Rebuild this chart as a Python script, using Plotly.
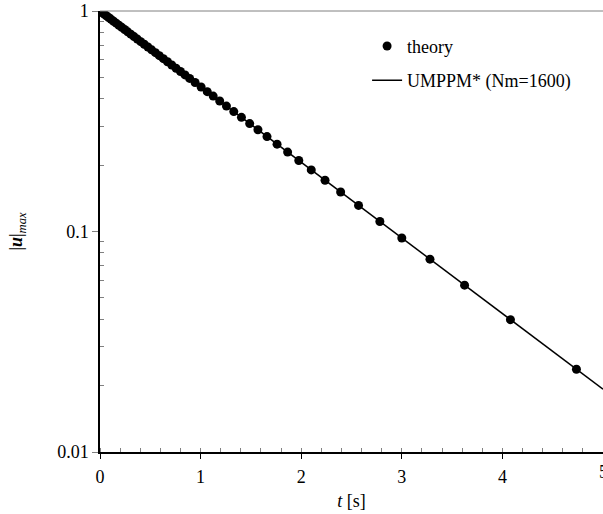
import plotly.graph_objects as go

# theory points (t [s], |u|max)
theory_t = [0, 0.02, 0.041, 0.063, 0.086, 0.11, 0.135, 0.161, 0.188, 0.216,
            0.245, 0.275, 0.306, 0.338, 0.371, 0.405, 0.44, 0.476, 0.513, 0.551,
            0.59, 0.63, 0.671, 0.713, 0.756, 0.80, 0.845, 0.891, 0.945, 1.005,
            1.066, 1.125, 1.19, 1.257, 1.33, 1.406, 1.488, 1.57, 1.66, 1.76,
            1.865, 1.976, 2.10, 2.237, 2.392, 2.57, 2.782, 3.0, 3.28, 3.624,
            4.08, 4.736]
theory_u = [1.0, 0.9843, 0.9681, 0.9514, 0.9343, 0.9168, 0.8988, 0.8806, 0.8620, 0.8431,
            0.8240, 0.8047, 0.7853, 0.7657, 0.7460, 0.7262, 0.7064, 0.6866, 0.6668, 0.6471,
            0.6274, 0.6079, 0.5886, 0.5693, 0.5503, 0.5315, 0.5130, 0.4947, 0.4740, 0.4520,
            0.4308, 0.4112, 0.3906, 0.3705, 0.3497, 0.3293, 0.3087, 0.2893, 0.2694, 0.2490,
            0.2292, 0.2099, 0.1903, 0.1708, 0.1511, 0.1313, 0.1110, 0.09348, 0.07493, 0.05710,
            0.03983, 0.02372]

# UMPPM* (Nm=1600) simulation curve
sim_t = [0, 0.5, 1.0, 1.5, 2.0, 2.5, 3.0, 3.5, 4.0, 4.5, 5.0]
sim_u = [1.0, 0.6737, 0.4538, 0.3057, 0.2060, 0.1388, 0.09348, 0.06298, 0.04243, 0.02858, 0.01926]

x_ticks = [0, 1, 2, 3, 4, 5]
y_ticks = [0.01, 0.1, 1]
y_ticklabels = ["0.01", "0.1", "1"]

FONT = "Liberation Serif"
FS = 18

fig = go.Figure()
fig.add_trace(go.Scatter(
    x=theory_t, y=theory_u, mode="markers", name="theory",
    legendgroup="a",
    marker=dict(color="black", size=9),
))
fig.add_trace(go.Scatter(
    x=sim_t, y=sim_u, mode="lines", name="UMPPM* (Nm=1600)",
    legendgroup="b",
    line=dict(color="black", width=1.5),
))

fig.update_layout(
    width=603, height=514,
    margin=dict(l=100, r=0, t=11, b=62),
    paper_bgcolor="white", plot_bgcolor="white",
    font=dict(family=FONT, size=FS, color="black"),
    showlegend=True,
    legend=dict(
        x=0.531, y=0.962, xanchor="left", yanchor="top",
        bgcolor="rgba(0,0,0,0)", borderwidth=0,
        font=dict(family=FONT, size=FS, color="black"),
        traceorder="grouped", tracegroupgap=8,
    ),
    shapes=[dict(type="line", xref="paper", yref="paper",
                 x0=0, x1=1, y0=1, y1=1,
                 line=dict(color="#808080", width=1))],
    annotations=[dict(x=x_ticks[-1], xref="x", y=0, yref="paper",
                      text=str(x_ticks[-1]), showarrow=False,
                      xanchor="center", yanchor="top", yshift=-8,
                      font=dict(family=FONT, size=FS, color="black"))],
)

fig.update_xaxes(
    range=[0, 5], tickvals=x_ticks, ticktext=[str(v) for v in x_ticks],
    showgrid=False, zeroline=False,
    showline=True, linecolor="black", linewidth=1.5,
    ticks="outside", ticklen=5, tickcolor="black", tickwidth=1,
    ticklabelstandoff=3,
    minor=dict(ticks="inside", ticklen=4, dtick=0.2, tickcolor="#808080", showgrid=False),
    title=dict(text="<i>t</i> [s]", font=dict(family=FONT, size=FS), standoff=8),
    tickfont=dict(family=FONT, size=FS),
)
fig.update_yaxes(
    type="log", range=[-2, 0],
    tickvals=y_ticks, ticktext=y_ticklabels,
    showgrid=False, zeroline=False,
    showline=True, linecolor="black", linewidth=1.5,
    ticks="outside", ticklen=6, tickcolor="#808080", tickwidth=1,
    minor=dict(ticks="inside", ticklen=4, tickcolor="#808080", showgrid=False,
               tickvals=[0.02, 0.03, 0.04, 0.05, 0.06, 0.07, 0.08, 0.09,
                         0.2, 0.3, 0.4, 0.5, 0.6, 0.7, 0.8, 0.9]),
    title=dict(text="|<b><i>u</i></b>|<sub><i>max</i></sub>", font=dict(family=FONT, size=FS), standoff=30),
    tickfont=dict(family=FONT, size=FS),
)

fig.write_html("out.html")
